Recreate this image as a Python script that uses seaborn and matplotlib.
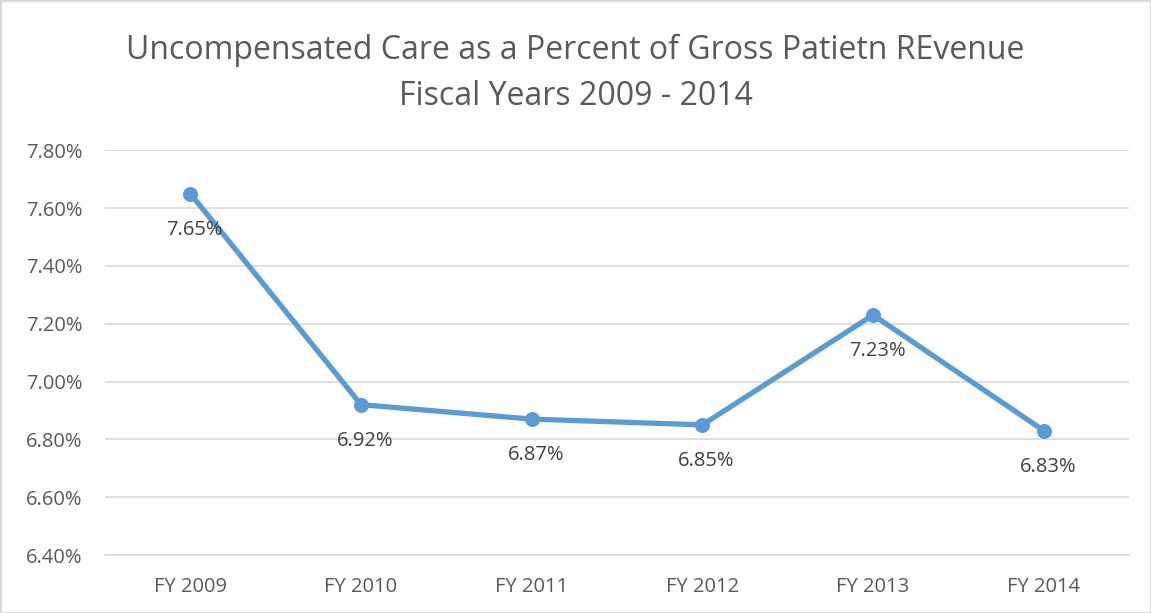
import numpy as np
import pandas as pd
import matplotlib.pyplot as plt
import seaborn as sns
from matplotlib.ticker import FuncFormatter

years = ["FY 2009", "FY 2010", "FY 2011", "FY 2012", "FY 2013", "FY 2014"]
pct = [7.65, 6.92, 6.87, 6.85, 7.23, 6.83]
yticks = [6.40, 6.60, 6.80, 7.00, 7.20, 7.40, 7.60, 7.80]

df = pd.DataFrame({"year": years, "pct": pct})

sns.set_style("white")
plt.rcParams["font.family"] = ["Open Sans", "DejaVu Sans"]

TXT = "#595959"
BLUE = "#5B9BD5"

fig = plt.figure(figsize=(11.51, 6.13), dpi=100, linewidth=2, edgecolor="#d9d9d9")
ax = fig.add_axes([0.0912, 0.0946, 0.8898, 0.6604])

sns.lineplot(data=df, x="year", y="pct", ax=ax, color=BLUE, linewidth=3.8,
             marker="o", markersize=10, markeredgecolor=BLUE, sort=False)

for i, v in enumerate(pct):
    ax.annotate(f"{v:.2f}%", (i, v), xytext=(4, -36), textcoords="offset pixels",
                ha="center", va="center", fontsize=14.5, color="#404040")

ax.set_xlim(-0.5, len(years) - 0.5)
ax.set_ylim(6.40, 7.80)
ax.set_yticks(yticks)
ax.yaxis.set_major_formatter(FuncFormatter(lambda v, _: f"{v:.2f}%"))
ax.grid(axis="y", color="#d9d9d9", linewidth=1.2)
ax.set_axisbelow(True)
for s in ["top", "right", "left"]:
    ax.spines[s].set_visible(False)
ax.spines["bottom"].set_color("#d9d9d9")
ax.spines["bottom"].set_linewidth(1.2)
ax.tick_params(axis="both", length=0, labelsize=14.5, labelcolor=TXT)
ax.tick_params(axis="y", pad=16)
ax.tick_params(axis="x", pad=16)
ax.set_xlabel("")
ax.set_ylabel("")

fig.text(0.5, 0.917, "Uncompensated Care as a Percent of Gross Patietn REvenue",
         ha="center", va="center", fontsize=23, color=TXT)
fig.text(0.5, 0.843, "Fiscal Years 2009 - 2014",
         ha="center", va="center", fontsize=23, color=TXT)

fig.savefig("out.png", dpi=100, edgecolor=fig.get_edgecolor())
